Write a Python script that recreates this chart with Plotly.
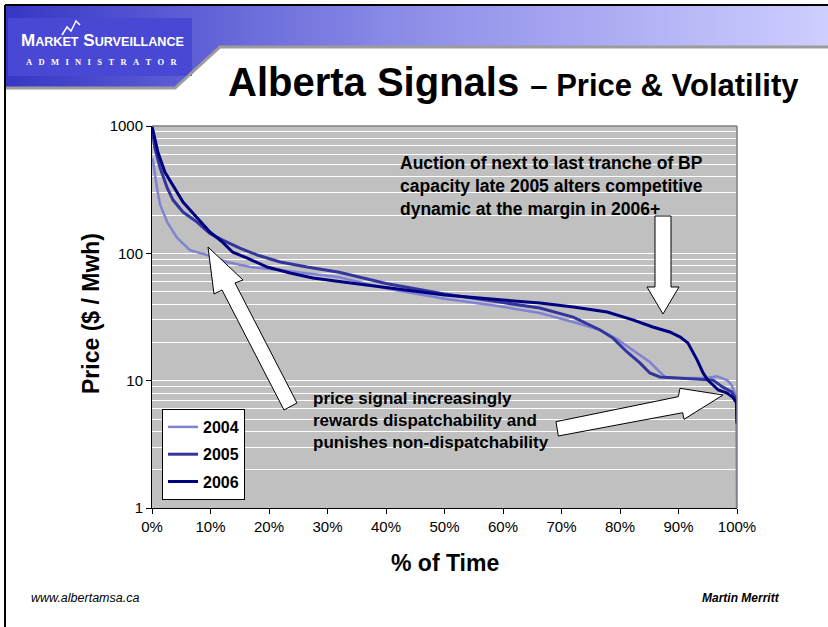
import plotly.graph_objects as go

W, H = 828, 627

# ---------------- data ----------------
years = ["2004", "2005", "2006"]

time_2004 = [0.0, 0.002, 0.0085, 0.014, 0.026, 0.043, 0.065, 0.094, 0.128, 0.168,
             0.219, 0.275, 0.32, 0.40, 0.50, 0.60, 0.663, 0.72, 0.766, 0.795,
             0.822, 0.851, 0.868, 0.877, 0.903, 0.949, 0.965, 0.983, 0.991, 0.999, 1.0]
price_2004 = [560, 522, 326, 240, 176, 132, 106, 97, 85.5, 78,
              74, 69, 65, 53, 44, 38, 34, 28.9, 25, 21.2,
              17.4, 14, 11.7, 10.7, 10.5, 10.5, 10.8, 10.1, 9.2, 7.4, 1.0]

time_2005 = [0.0, 0.002, 0.005, 0.014, 0.026, 0.036, 0.053, 0.077, 0.099, 0.121,
             0.15, 0.18, 0.219, 0.265, 0.32, 0.40, 0.50, 0.60, 0.663, 0.72,
             0.766, 0.788, 0.812, 0.834, 0.851, 0.868, 0.903, 0.937, 0.959, 0.976,
             0.991, 0.999, 1.0]
price_2005 = [950, 850, 672, 468, 326, 262, 211, 176, 143, 127,
              110, 97, 85.5, 78, 71, 58, 48, 41, 37.2, 31.6,
              25, 21.6, 16.8, 13.8, 11.5, 10.7, 10.5, 10.3, 10.1, 8.9,
              8.15, 7.05, 4.9]

time_2006 = [0.0, 0.005, 0.01, 0.022, 0.036, 0.053, 0.077, 0.099, 0.12, 0.138,
             0.162, 0.197, 0.236, 0.275, 0.32, 0.40, 0.50, 0.60, 0.663, 0.72,
             0.778, 0.822, 0.856, 0.885, 0.903, 0.916, 0.932, 0.942, 0.95, 0.959,
             0.968, 0.983, 0.993, 0.999, 1.0]
price_2006 = [1000, 776, 625, 435, 344, 253, 190, 147, 123, 102,
              92, 78, 70, 64, 60, 54, 47, 43, 40.7, 37.9,
              34.6, 30, 26.4, 24.1, 22, 19.8, 14.5, 11.5, 10.1, 9.25,
              8.45, 8.0, 7.4, 6.7, 4.6]

x_tick_vals = [0.0, 0.1, 0.2, 0.3, 0.4, 0.5, 0.6, 0.7, 0.8, 0.9, 1.0]
y_tick_vals = [1, 10, 100, 1000]
y_tick_text = ["1", "10", "100", "1000"]
y_minor_vals = [m * 10 ** k for k in range(3) for m in range(2, 10)]

x_title = "% of Time"
y_title = "Price ($ / Mwh)"
note_top = "Auction of next to last tranche of BP<br>capacity late 2005 alters competitive<br>dynamic at the margin in 2006+"
note_bottom = "price signal increasingly<br>rewards dispatchability and<br>punishes non-dispatchability"

# ---------------- styles ----------------
series_style = {
    "2004": dict(color="#8282D2", width=2.5),
    "2005": dict(color="#34349E", width=3),
    "2006": dict(color="#000080", width=3),
}
ARIAL = "Liberation Sans, Arial, sans-serif"


def px(x, y):
    return x / W, 1 - y / H


def path_of(points):
    s = ""
    for i, (x, y) in enumerate(points):
        a, b = px(x, y)
        s += ("M" if i == 0 else " L") + f" {a:.5f} {b:.5f}"
    return s + " Z"


fig = go.Figure()
data = {"2004": (time_2004, price_2004), "2005": (time_2005, price_2005), "2006": (time_2006, price_2006)}
for yr in years:
    t, p = data[yr]
    fig.add_trace(go.Scatter(x=t, y=p, mode="lines", name=yr, legendgroup=yr,
                             line=dict(color=series_style[yr]["color"], width=series_style[yr]["width"]),
                             hoverinfo="skip"))

X0, X1, Y0, Y1 = 152, 737, 126, 508

shapes = []

# header gradient band
def hb(x):
    if x <= 175:
        return 88
    if x >= 220:
        return 47
    return 88 - (x - 175) * 41 / 45

stops = [(5, (54, 54, 196)), (400, (140, 140, 232)), (828, (206, 206, 255))]

def col(x):
    for (xa, ca), (xb, cb) in zip(stops[:-1], stops[1:]):
        if xa <= x <= xb:
            f = (x - xa) / (xb - xa)
            return "rgb(%d,%d,%d)" % tuple(round(ca[i] + (cb[i] - ca[i]) * f) for i in range(3))
    return "rgb(206,206,255)"

step = 3
for x0 in range(5, 828, step):
    x1 = min(x0 + step + 0.6, 828)
    shapes.append(dict(type="path", xref="paper", yref="paper", layer="below",
                       path=path_of([(x0, 5), (x1, 5), (x1, hb(x1)), (x0, hb(x0))]),
                       fillcolor=col(x0 + step / 2), line=dict(width=0)))
# logo box
shapes.append(dict(type="path", xref="paper", yref="paper", layer="below",
                   path=path_of([(8, 18), (192, 18), (192, 76), (8, 76)]),
                   fillcolor="rgb(72,72,212)", line=dict(width=0)))
# bevel edge under header
a = [px(5, 88), px(175, 88), px(220, 47), px(828, 47)]
shapes.append(dict(type="path", xref="paper", yref="paper", layer="below",
                   path="M %f %f L %f %f L %f %f L %f %f" % (a[0] + a[1] + a[2] + a[3]),
                   line=dict(color="#9c9c9c", width=3)))
# slide frame
shapes.append(dict(type="line", xref="paper", yref="paper", x0=px(5, 5)[0], y0=px(5, 5)[1],
                   x1=1, y1=px(5, 5)[1], line=dict(color="black", width=2)))
shapes.append(dict(type="line", xref="paper", yref="paper", x0=px(5, 5)[0], y0=px(5, 5)[1],
                   x1=px(5, 627)[0], y1=0, line=dict(color="black", width=2)))
# logo zigzag
zz = [px(62, 35), px(67, 27), px(71, 31), px(76, 21), px(80, 25)]
shapes.append(dict(type="path", xref="paper", yref="paper",
                   path="M " + " L ".join("%f %f" % p for p in zz),
                   line=dict(color="white", width=1.5)))

# plot area border (top/right in gray)
shapes.append(dict(type="line", xref="x domain", yref="y domain", x0=0, x1=1, y0=1, y1=1,
                   line=dict(color="#808080", width=1.5)))
shapes.append(dict(type="line", xref="x domain", yref="y domain", x0=1, x1=1, y0=0, y1=1,
                   line=dict(color="#808080", width=1.5)))

# block arrows
arrow_style = dict(type="path", xref="paper", yref="paper", fillcolor="white",
                   line=dict(color="black", width=1), layer="above")
shapes.append(dict(arrow_style, path=path_of([(208, 247), (243, 280), (235, 283), (297, 403),
                                               (284, 410), (222, 290), (214, 294)])))
shapes.append(dict(arrow_style, path=path_of([(655, 216), (671, 216), (671, 287), (679, 287),
                                               (663, 314), (647, 287), (655, 287)])))
shapes.append(dict(arrow_style, path=path_of([(556, 421.7), (678.3, 396.7), (680, 388.3), (723, 395),
                                               (684, 419.3), (682.7, 412.7), (558.3, 436)])))

annotations = []

def ann(text, x, y, size, family=ARIAL, color="black", xanchor="left", yanchor="middle", angle=0, align="left"):
    ax, ay = px(x, y)
    annotations.append(dict(text=text, x=ax, y=ay, xref="paper", yref="paper", showarrow=False,
                            xanchor=xanchor, yanchor=yanchor, align=align, textangle=angle,
                            font=dict(family=family, size=size, color=color)))

# title
ann("<b>Alberta Signals <span style='font-size:31px'>– Price &amp; Volatility</span></b>",
    226, 82, 40)
# logo text
ann("<b>M<span style='font-size:12.6px'>ARKET</span> S<span style='font-size:12.6px'>URVEILLANCE</span></b>",
    102, 41, 17, color="white", xanchor="center")
ann("<b>" + "\u00a0\u00a0\u00a0".join("ADMINISTRATOR") + "</b>", 102, 62, 8.5,
    family="Liberation Serif, DejaVu Serif, serif", color="white", xanchor="center")
# notes
ann("<b>" + note_top + "</b>", 398, 186, 17.5)
ann("<b>" + note_bottom + "</b>", 311, 420, 17)
# axis titles
ann("<b>" + y_title + "</b>", 91, 314, 23, xanchor="center", angle=-90)
ann("<b>" + x_title + "</b>", 445, 563, 23, xanchor="center")
# footer
ann("<i>www.albertamsa.ca</i>", 29, 598, 12.5)
ann("<b><i>Martin Merritt</i></b>", 782, 598, 12, xanchor="right")

fig.update_layout(
    width=W, height=H, autosize=False,
    margin=dict(l=0, r=0, t=0, b=0, pad=0),
    paper_bgcolor="white", plot_bgcolor="#C0C0C0",
    shapes=shapes, annotations=annotations,
    showlegend=True,
    legend=dict(x=162 / W, y=1 - 409 / H, xanchor="left", yanchor="top",
                bgcolor="white", bordercolor="black", borderwidth=1,
                font=dict(family=ARIAL, size=16, color="black", weight="bold"),
                tracegroupgap=3.5, traceorder="grouped"),
    xaxis=dict(domain=[X0 / W, X1 / W], range=[0, 1], tickvals=x_tick_vals, tickformat=".0%",
               showgrid=False, zeroline=False, showline=True, linecolor="black", linewidth=1,
               ticks="outside", ticklen=5, tickcolor="black",
               tickfont=dict(family=ARIAL, size=15, color="black"), automargin=False),
    yaxis=dict(domain=[1 - Y1 / H, 1 - Y0 / H], type="log", range=[0, 3],
               tickvals=y_tick_vals, ticktext=y_tick_text,
               showgrid=True, gridcolor="white", gridwidth=1,
               minor=dict(tickvals=y_minor_vals, showgrid=True, gridcolor="white", gridwidth=1, ticks=""),
               zeroline=False, showline=True, linecolor="black", linewidth=1,
               ticks="outside", ticklen=5, tickcolor="black",
               tickfont=dict(family=ARIAL, size=15, color="black"), automargin=False),
)

fig.write_html("out.html", config={"displayModeBar": False},
               post_script="document.body.style.margin='0';")
